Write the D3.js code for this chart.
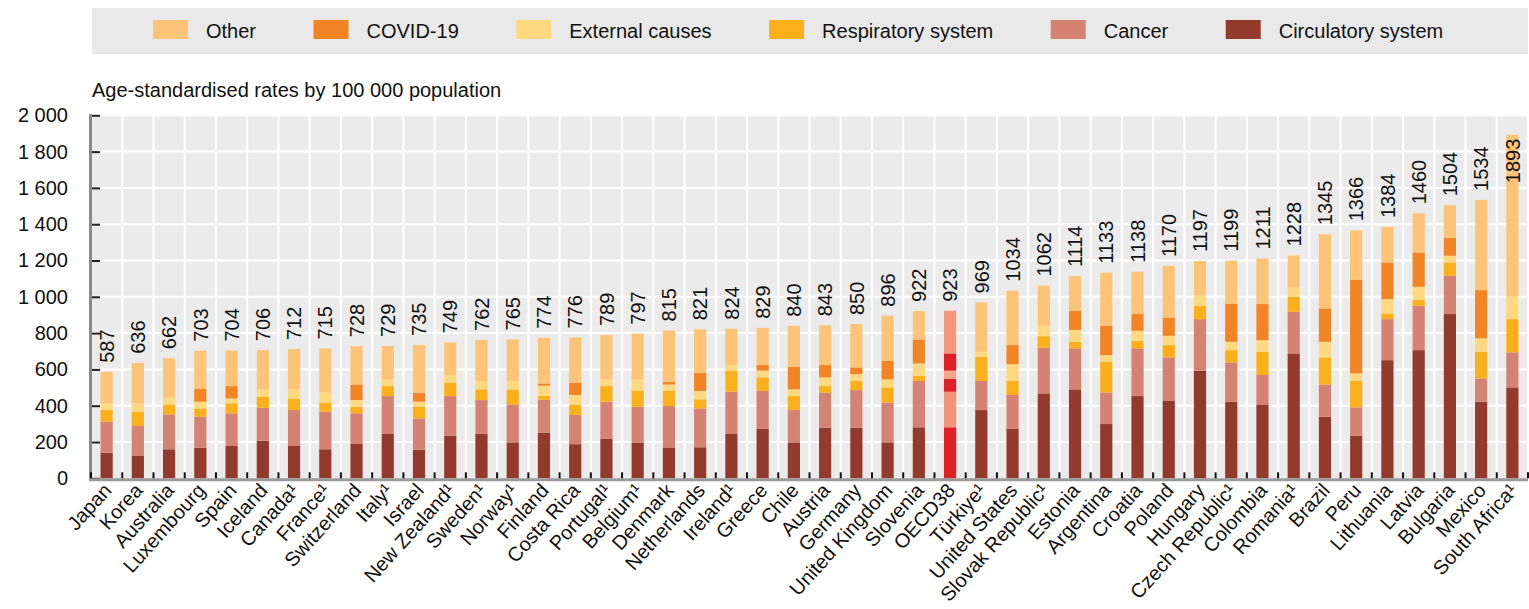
<!DOCTYPE html>
<html>
<head>
<meta charset="utf-8">
<script src="https://cdn.jsdelivr.net/npm/d3@7"></script>
<style>
  body { margin: 0; background: #fff; }
  svg { display: block; font-family: "Liberation Sans", Arial, sans-serif; }
</style>
</head>
<body>
<div id="chart"></div>
<script>
// --- Data: age-standardised mortality rates per 100 000 population ---
const countries = ["Japan", "Korea", "Australia", "Luxembourg", "Spain", "Iceland", "Canada¹", "France¹",
  "Switzerland", "Italy¹", "Israel", "New Zealand¹", "Sweden¹", "Norway¹", "Finland", "Costa Rica",
  "Portugal¹", "Belgium¹", "Denmark", "Netherlands", "Ireland¹", "Greece", "Chile", "Austria", "Germany",
  "United Kingdom", "Slovenia", "OECD38", "Türkiye¹", "United States", "Slovak Republic¹", "Estonia",
  "Argentina", "Croatia", "Poland", "Hungary", "Czech Republic¹", "Colombia", "Romania¹", "Brazil", "Peru",
  "Lithuania", "Latvia", "Bulgaria", "Mexico", "South Africa¹"];

const circulatory = [141, 123, 160, 169, 178, 207, 178, 160, 189, 244, 158, 235, 244, 198, 252, 188, 217, 197,
  170, 171, 244, 272, 198, 279, 279, 198, 281, 281, 376, 272, 468, 490, 299, 453, 426, 593, 422, 407, 688, 339,
  235, 651, 706, 905, 422, 501];
const cancer = [171, 165, 192, 170, 180, 181, 198, 207, 169, 209, 172, 218, 187, 209, 181, 161, 205, 197, 228,
  214, 233, 209, 178, 193, 207, 219, 255, 196, 160, 187, 251, 226, 174, 263, 240, 284, 217, 162, 229, 178, 156,
  226, 244, 211, 128, 193];
const respiratory = [64, 79, 55, 46, 55, 62, 61, 50, 36, 55, 66, 74, 59, 83, 22, 57, 86, 87, 83, 50, 114, 75, 77,
  36, 50, 84, 29, 70, 134, 77, 64, 36, 169, 42, 68, 73, 67, 128, 83, 149, 147, 31, 32, 73, 147, 183];
const external = [37, 46, 37, 37, 27, 40, 55, 55, 37, 37, 26, 42, 46, 46, 55, 53, 37, 64, 36, 46, 33, 37, 37, 48,
  38, 44, 68, 46, 27, 93, 57, 65, 37, 55, 51, 56, 46, 64, 50, 86, 40, 79, 73, 37, 74, 123];
const covid = [0, 0, 0, 70, 68, 0, 0, 0, 86, 0, 50, 0, 0, 0, 12, 68, 0, 0, 16, 101, 0, 31, 125, 68, 37, 103, 132,
  95, 0, 105, 0, 106, 161, 92, 101, 0, 211, 199, 0, 184, 517, 202, 189, 99, 266, 0];
const other = [174, 223, 218, 211, 196, 216, 220, 243, 211, 184, 263, 180, 226, 229, 252, 249, 244, 252, 282,
  239, 200, 205, 225, 219, 239, 248, 157, 235, 272, 300, 222, 191, 293, 233, 284, 191, 236, 251, 178, 409, 271,
  195, 216, 179, 497, 893];
const totals = [587, 636, 662, 703, 704, 706, 712, 715, 728, 729, 735, 749, 762, 765, 774, 776, 789, 797, 815,
  821, 824, 829, 840, 843, 850, 896, 922, 923, 969, 1034, 1062, 1114, 1133, 1138, 1170, 1197, 1199, 1211, 1228,
  1345, 1366, 1384, 1460, 1504, 1534, 1893];

const yTicks = [0, 200, 400, 600, 800, 1000, 1200, 1400, 1600, 1800, 2000];
const highlight = "OECD38";

// series, bottom to top
const keys = ["circulatory", "cancer", "respiratory", "external", "covid", "other"];
const labels = {
  circulatory: "Circulatory system", cancer: "Cancer", respiratory: "Respiratory system",
  external: "External causes", covid: "COVID-19", other: "Other"
};
const colors = {
  circulatory: "#943a2c", cancer: "#d68273", respiratory: "#fbb01a",
  external: "#ffd97f", covid: "#f38424", other: "#fdc377"
};
const hiColors = {
  circulatory: "#e01f26", cancer: "#f4947b", respiratory: "#e01f26",
  external: "#f7a68c", covid: "#e01f26", other: "#f4967a"
};

const width = 1529, height = 609;
const x0 = 91, x1 = 1528, yTop = 115.3, yBot = 478.3;
const ink = "#111";
const fontSize = 20;

const rows = countries.map((c, i) => ({
  country: c, circulatory: circulatory[i], cancer: cancer[i], respiratory: respiratory[i],
  external: external[i], covid: covid[i], other: other[i], total: totals[i]
}));
const series = d3.stack().keys(keys)(rows);

const svg = d3.select("#chart").append("svg")
  .attr("width", width).attr("height", height);

// --- Scales ---
const x = d3.scaleBand().domain(countries).range([x0, x1]).paddingInner(0.61).paddingOuter(0.305);
const y = d3.scaleLinear().domain([0, 2000]).range([yBot, yTop]);
const step = x.step();
const bounds = d3.range(countries.length + 1).map(k => x0 + k * step);

// --- Legend ---
svg.append("rect")
  .attr("x", 92).attr("y", 8).attr("width", 1436).attr("height", 46)
  .attr("fill", "#e9e9e9");

let lx = 153;
keys.slice().reverse().forEach(k => {
  svg.append("rect")
    .attr("x", lx).attr("y", 20).attr("width", 35).attr("height", 19)
    .attr("fill", colors[k]);
  const tx = svg.append("text")
    .attr("x", lx + 53).attr("y", 37.5)
    .attr("fill", ink).style("font-size", fontSize + "px")
    .text(labels[k]);
  lx += 53 + tx.node().getComputedTextLength() + 57.5;
});

// --- Subtitle ---
svg.append("text")
  .attr("x", 92).attr("y", 97)
  .attr("fill", ink).style("font-size", fontSize + "px")
  .text("Age-standardised rates by 100 000 population");

// --- Plot background and grid ---
svg.append("rect")
  .attr("x", x0).attr("y", yTop).attr("width", x1 - x0).attr("height", yBot - yTop)
  .attr("fill", "#ebebeb");

svg.selectAll(".hgrid").data(yTicks.slice(1)).join("line")
  .attr("x1", x0).attr("x2", x1)
  .attr("y1", d => y(d)).attr("y2", d => y(d))
  .attr("stroke", "#fff").attr("stroke-width", 2);

svg.selectAll(".vgrid").data(bounds.slice(1)).join("line")
  .attr("x1", d => d).attr("x2", d => d)
  .attr("y1", yTop).attr("y2", yBot)
  .attr("stroke", "#fff").attr("stroke-width", 2);

// --- Stacked bars ---
svg.append("g").selectAll("g").data(series).join("g")
  .selectAll("rect").data(s => s.map(d => ({ key: s.key, d }))).join("rect")
  .attr("x", p => x(p.d.data.country))
  .attr("width", x.bandwidth())
  .attr("y", p => y(p.d[1]))
  .attr("height", p => Math.max(0, y(p.d[0]) - y(p.d[1])))
  .attr("fill", p => p.d.data.country === highlight ? hiColors[p.key] : colors[p.key]);

// --- Total labels (rotated) ---
svg.append("g").selectAll("text").data(rows).join("text")
  .attr("transform", d => {
    const cx = x(d.country) + x.bandwidth() / 2;
    return `translate(${cx},${y(d.total)}) rotate(-90)`;
  })
  .each(function (d) {
    const t = d3.select(this).text(d.total)
      .attr("dy", "0.36em").attr("fill", ink).style("font-size", fontSize + "px");
    const len = this.getComputedTextLength();
    if (y(d.total) - 9 - len < yTop) {
      t.attr("text-anchor", "end").attr("x", -4);
    } else {
      t.attr("text-anchor", "start").attr("x", 9);
    }
  });

// --- Axes ---
const fmt = d3.formatLocale({ decimal: ".", thousands: " ", grouping: [3], currency: ["", ""] }).format(",d");
const yAxis = svg.append("g")
  .attr("transform", `translate(${x0},0)`)
  .call(d3.axisLeft(y).tickValues(yTicks).tickSizeInner(-9).tickSizeOuter(0).tickPadding(23).tickFormat(fmt));
yAxis.select(".domain").remove();
yAxis.selectAll("line").attr("stroke", "#222").attr("stroke-width", 2);
yAxis.selectAll("text").attr("fill", ink).style("font-size", fontSize + "px")
  .style("font-family", "'Liberation Sans', Arial, sans-serif");

svg.append("line")
  .attr("x1", x0 - 0.5).attr("x2", x0 - 0.5).attr("y1", yTop - 1).attr("y2", yBot + 2)
  .attr("stroke", "#8a8a8a").attr("stroke-width", 3);
svg.append("line")
  .attr("x1", x0 - 2).attr("x2", x1).attr("y1", yBot + 1.5).attr("y2", yBot + 1.5)
  .attr("stroke", "#9a9a9a").attr("stroke-width", 3);

svg.selectAll(".xtick").data(bounds).join("line")
  .attr("x1", d => d).attr("x2", d => d)
  .attr("y1", yBot).attr("y2", yBot - 6)
  .attr("stroke", "#111").attr("stroke-width", 2);

const xAxis = svg.append("g")
  .attr("transform", `translate(0,${yBot})`)
  .call(d3.axisBottom(x).tickSize(0));
xAxis.select(".domain").remove();
xAxis.selectAll("text")
  .attr("x", 0).attr("y", 0).attr("dy", 0)
  .attr("transform", "translate(6,13) rotate(-48)")
  .attr("text-anchor", "end")
  .attr("fill", ink)
  .style("font-size", fontSize + "px")
  .style("font-family", "'Liberation Sans', Arial, sans-serif");
</script>
</body>
</html>
